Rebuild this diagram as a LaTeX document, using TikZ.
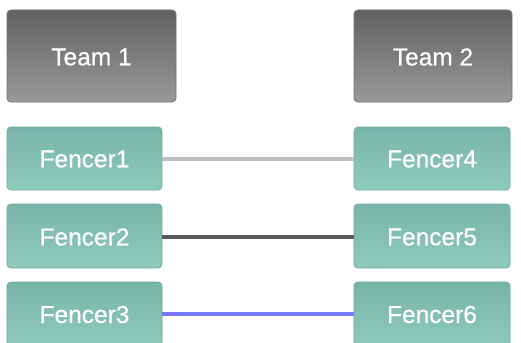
\documentclass[tikz,border=0pt]{standalone}
\usepackage{fontspec}
\setmainfont{Liberation Sans}
\newfontfamily\lblfont{Liberation Sans}[FakeBold=0.6]
\definecolor{ftop}{RGB}{120,181,168}
\definecolor{fbot}{RGB}{143,203,188}
\definecolor{fedge}{RGB}{110,170,155}
\definecolor{bluel}{RGB}{120,120,250}
\begin{document}
\begin{tikzpicture}[x=1pt,y=-1pt,
  team/.style={draw=black!55,rounded corners=4pt,top color=black!62,bottom color=black!40,line width=0.8pt},
  fencer/.style={draw=fedge,rounded corners=4pt,top color=ftop,bottom color=fbot,line width=0.8pt},
  lbl/.style={text=white,font=\lblfont\fontsize{24.5}{28}\selectfont}]
\useasboundingbox (0,0) rectangle (521,342);
\clip (0,0) rectangle (521,342);
\fill[white] (0,0) rectangle (521,342);
% boxes
\path[team] (7,10) rectangle (176,102);
\node[lbl] (t1) at (91.5,57) {Team 1};
\path[team] (354,10) rectangle (512,102);
\node[lbl] (t2) at (433,57) {Team 2};
\path[fencer] (7,127) rectangle (162,190);
\node[lbl] (f1) at (84.5,159) {Fencer1};
\path[fencer] (7,204) rectangle (162,268);
\node[lbl] (f2) at (84.5,237) {Fencer2};
\path[fencer] (7,282) rectangle (162,350);
\node[lbl] (f3) at (84.5,314.5) {Fencer3};
\path[fencer] (354,127) rectangle (510,190);
\node[lbl] (f4) at (432,159) {Fencer4};
\path[fencer] (354,204) rectangle (510,268);
\node[lbl] (f5) at (432,237) {Fencer5};
\path[fencer] (354,282) rectangle (510,350);
\node[lbl] (f6) at (432,314.5) {Fencer6};
\coordinate (a1) at (162,158.5); \coordinate (b1) at (354,158.5);
\coordinate (a2) at (162,236.5); \coordinate (b2) at (354,236.5);
\coordinate (a3) at (162,314); \coordinate (b3) at (354,314);
\draw[line width=4pt,black!25] (a1) -- (b1);
\draw[line width=4pt,black!65] (a2) -- (b2);
\draw[line width=4pt,bluel] (a3) -- (b3);
\end{tikzpicture}
\end{document}
